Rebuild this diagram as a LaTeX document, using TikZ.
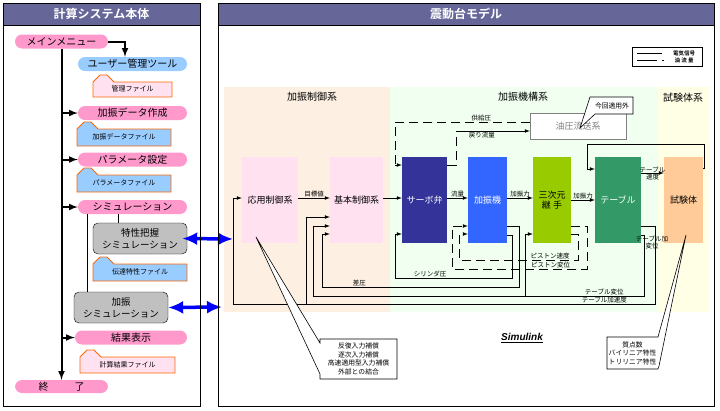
\documentclass[tikz,border=0pt]{standalone}
\usepackage{fontspec}
\setmainfont{Noto Sans CJK JP}[BoldFont={Noto Sans CJK JP Bold}]
\newfontfamily\simfont{Liberation Sans}
\usetikzlibrary{arrows.meta}
\definecolor{titlecol}{HTML}{666699}
\definecolor{pinkpill}{HTML}{FF99CC}
\definecolor{bluepill}{HTML}{99CCFF}
\definecolor{simgray}{HTML}{C0C0C0}
\definecolor{filepink}{HTML}{FFE1F0}
\definecolor{fileline}{HTML}{FF6600}
\definecolor{rgnpeach}{HTML}{FDEFE1}
\definecolor{rgngreen}{HTML}{F0FFF0}
\definecolor{rgnyellow}{HTML}{FFFFE6}
\definecolor{blkpink}{HTML}{FFE1F0}
\definecolor{servo}{HTML}{333399}
\definecolor{actu}{HTML}{3366FF}
\definecolor{joint}{HTML}{99CC00}
\definecolor{tablecol}{HTML}{339966}
\definecolor{spec}{HTML}{FFCC99}

\begin{document}
\begin{tikzpicture}[x=1pt,y=-1pt,
  title/.style={text=white,font=\bfseries\fontsize{12}{13}\selectfont},
  pill/.style={rounded corners=7pt,minimum height=14pt,inner sep=0pt,font=\fontsize{10}{11}\selectfont},
  simbox/.style={draw,fill=simgray,rounded corners=5pt,minimum width=94pt,minimum height=31pt,inner sep=0pt,align=center,font=\fontsize{9.5}{12}\selectfont},
  filebox/.style={draw=fileline,line width=0.8pt},
  filetext/.style={inner sep=0pt,font=\fontsize{7}{8}\selectfont},
  mainline/.style={line width=2pt,-latex},
  blk/.style={minimum height=86pt,inner sep=0pt,align=center,font=\fontsize{9}{10.5}\selectfont},
  rgn/.style={font=\fontsize{10}{11}\selectfont},
  sig/.style={line width=0.7pt,-latex},
  oil/.style={line width=0.7pt,dash pattern=on 9pt off 5pt},
  lbl/.style={inner sep=1pt,align=center,font=\fontsize{6.5}{7}\selectfont},
  lgd/.style={inner sep=0pt,font=\bfseries\fontsize{5.5}{6}\selectfont},
  callout/.style={draw,fill=white,line width=0.6pt},
  note/.style={inner sep=0pt,align=center,font=\fontsize{6.8}{8.5}\selectfont},
  bigarrow/.style={line width=3.5pt,blue,{Latex[length=15pt,width=13pt]}-{Latex[length=15pt,width=13pt]}}]
\useasboundingbox (0,0) rectangle (720,410);
\newcommand{\filetab}[7]{%
  \draw[filebox,fill=#6] (#2,#5) -- (#2,#4+7) -- (#2+7,#4) -- (#2+14,#4) -- (#2+21,#4+7) -- (#3,#4+7) -- (#3,#5) -- cycle;
  \node[filetext] (#1) at ({(#2+#3)/2},{(#4+6+#5)/2}) {#7};}
%backgrounds
\fill[titlecol] (3,3) rectangle (200,25);
\fill[titlecol] (218,3) rectangle (714,25);
\fill[rgnpeach] (224,87) rectangle (390,312);
\fill[rgngreen] (390,87) rectangle (658,312);
\fill[rgnyellow] (658,87) rectangle (710,312);
\node[title] (lt) at (101.5,14) {計算システム本体};
\node[title] (rt) at (466,14) {震動台モデル};
%
% left: menu flow
\node[pill,fill=pinkpill,minimum width=93pt] (mm) at (61.5,41.5) {メインメニュー};
\node[pill,fill=bluepill,minimum width=109pt] (ut) at (132.5,64) {ユーザー管理ツール};
\node[pill,fill=pinkpill,minimum width=109pt] (dc) at (132.5,113) {加振データ作成};
\node[pill,fill=pinkpill,minimum width=109pt] (ps) at (132.5,159.5) {パラメータ設定};
\node[pill,fill=pinkpill,minimum width=109pt] (sm) at (132.5,207) {シミュレーション};
\node[simbox] (ts) at (140,238.5) {特性把握\\シミュレーション};
\node[simbox] (ks) at (121,307.5) {加振\\シミュレーション};
\node[pill,fill=pinkpill,minimum width=112pt] (kk) at (131,337.5) {結果表示};
\node[pill,fill=pinkpill,minimum width=93pt,minimum height=13pt] (en) at (61.5,386.5) {終\hspace{26pt}了};
\filetab{fa}{93}{172}{75}{97}{filepink}{管理ファイル}
\filetab{fb}{77}{171}{122}{146}{bluepill}{加振データファイル}
\filetab{fc}{77}{171}{168}{192}{bluepill}{パラメータファイル}
\filetab{fd}{93}{187}{257}{281}{bluepill}{伝達特性ファイル}
\filetab{fe}{80}{175}{350}{373}{filepink}{計算結果ファイル}
\draw[mainline] (mm.south) -- (en.north);
\draw[mainline] (mm.east) -| ([xshift=-7.5pt]ut.north);
\draw[mainline] (mm.south |- dc.west) -- (dc.west);
\draw[mainline] (mm.south |- ps.west) -- (ps.west);
\draw[mainline] (mm.south |- sm.west) -- (sm.west);
\draw[mainline] (mm.south |- kk.west) -- (kk.west);
\draw (sm.south -| 87,0) -- (ks.north -| 87,0);
\draw (sm.south -| 118,0) -- (ts.north -| 118,0);
%
% right: blocks
\node[rgn] (rga) at (312,97) {加振制御系};
\node[rgn] (rgb) at (523,97) {加振機構系};
\node[rgn] (rgc) at (683,98) {試験体系};
\node[blk,fill=blkpink,minimum width=56pt] (ao) at (270,200) {応用制御系};
\node[blk,fill=blkpink,minimum width=53pt] (kh) at (356.5,200) {基本制御系};
\node[blk,fill=servo,text=white,minimum width=45pt] (sv) at (424.5,200) {サーボ弁};
\node[blk,fill=actu,text=white,minimum width=39pt] (kd) at (487.5,200) {加振機};
\node[blk,fill=joint,minimum width=38pt] (sj) at (552,200) {三次元\\継\ 手};
\node[blk,fill=tablecol,text=white,minimum width=46pt] (tb) at (618,200) {テーブル};
\node[blk,fill=spec,minimum width=39pt] (sk) at (683.5,200) {試験体};
\node[draw=gray,fill=white,text=gray,minimum width=96pt,minimum height=26pt,inner sep=0pt,font=\fontsize{9}{10}\selectfont] (yu) at (578,126) {油圧流送系};
%
% forward path
\draw[sig] (ao.east |- 0,198) -- node[lbl,above]{目標値} (kh.west |- 0,198);
\draw[sig] (kh.east |- 0,198) -- (sv.west |- 0,198);
\draw[sig] (sv.east |- 0,198) -- node[lbl,above]{流量} (kd.west |- 0,198);
\draw[sig] (kd.east |- 0,198) -- node[lbl,above]{加振力} (sj.west |- 0,198);
\draw[sig] (sj.east |- 0,200) -- node[lbl,above]{加振力} (tb.west |- 0,200);
\draw[sig] (tb.east |- 0,173) -- node[lbl]{テーブル\\速度} (sk.west |- 0,173);
\draw[sig] (sk.east |- 0,168) -- (704,168) -- (704,144) -- (587,144) -- (587,169) -- (tb.west |- 0,169);
%oil lines
\draw[oil] (yu.west |- 0,122) -- node[lbl,above,pos=0.36]{供給圧} (395,122) -- (395,165) coordinate(sp);
\draw[sig] (sp) -- (sv.west |- sp);
\draw[oil] (sv.east |- 0,165) -- (456,165) -- (456,131) coordinate(rf);
\draw[sig] (rf) -- node[lbl,below,pos=0.35]{戻り流量} (yu.west |- rf);
\draw[oil,-latex] (sj.east |- 0,226) -- (587,226) -- (587,269) -- node[lbl,above,pos=0.27]{ピストン変位} (452,269) -- (452,226) -- (kd.west |- 0,226);
\draw[oil,-latex] (sj.east |- 0,234) -- (578,234) -- (578,260) -- node[lbl,above,pos=0.235]{ピストン速度} (459,260) -- (459,234) -- (kd.west |- 0,234);
%feedback
\draw[sig] (kd.east |- 0,235) -- (512,235) -- (512,278) -- node[lbl,above,pos=0.7]{シリンダ圧} (395,278) -- (395,234) -- (sv.west |- 0,234);
\draw[sig] (kd.east |- 0,226) -- (519,226) -- (519,287) -- node[lbl,above,pos=0.81]{差圧} (322,287) -- (322,234) -- (kh.west |- 0,234);
\draw[sig] (tb.east |- 0,235) -- (644,235) -- (644,296) -- node[lbl,above,pos=0.12]{テーブル変位} (313,296) -- (313,226) -- (kh.west |- 0,226);
\coordinate (tvb) at (525,296);
\draw[sig] (tvb) |- (sj.west |- 0,234);
\draw[sig] (tb.east |- 0,226) -- (655,226) -- (655,304) -- node[lbl,above,pos=0.12]{テーブル加速度} (233,304) -- (233,198) -- (ao.west |- 0,198);
\coordinate (tab) at (306,304);
\draw[sig] (tab) |- (kh.west |- 0,217);
\node[lbl] (tvl) at (652,242) {テーブル加\\変位};
%
% notes
\draw[callout] (320,339) -- (397,339) -- (397,379) -- (320,379) -- (320,374) -- (256,237) -- (320,343) -- cycle;
\node[note] (ca) at (358.5,359) {反復入力補償\\逐次入力補償\\高速適用型入力補償\\外部との結合};
\draw[callout] (607,337) -- (658,337) -- (686,235) -- (659,366) -- (658,369) -- (607,369) -- cycle;
\node[note] (cb) at (632.5,353) {質点数\\バイリニア特性\\トリリニア特性};
\draw[callout] (590,97) -- (633,97) -- (633,114) -- (595,114) -- (580,128) -- cycle;
\node[note] (cc) at (612,105.5) {今回適用外};
\node[font=\simfont\bfseries\itshape\fontsize{10}{12}\selectfont] (sl) at (522,338) {\underline{Simulink}};
% legend
\draw (632,47) rectangle (702,66);
\draw (637,53) -- (662,53);
\draw[dash pattern=on 20pt off 5pt on 2pt off 3pt] (637,60) -- (667,60);
\node[lgd] (la) at (684,53) {電気信号};
\node[lgd] (lb) at (684,60) {油 流 量};
%
% links to model
\coordinate (ea) at (233,239);
\coordinate (eb) at (222,307);
\draw[bigarrow] ([xshift=-5pt]ts.east) -- (ea);
\draw[bigarrow] (ks.east) -- (eb);
% frames
\draw[line width=1pt] (3,3) rectangle (200,406);
\draw[line width=1pt] (218,3) rectangle (714,406);
\draw (3,25) -- (200,25);
\draw (218,25) -- (714,25);
\end{tikzpicture}
\end{document}
